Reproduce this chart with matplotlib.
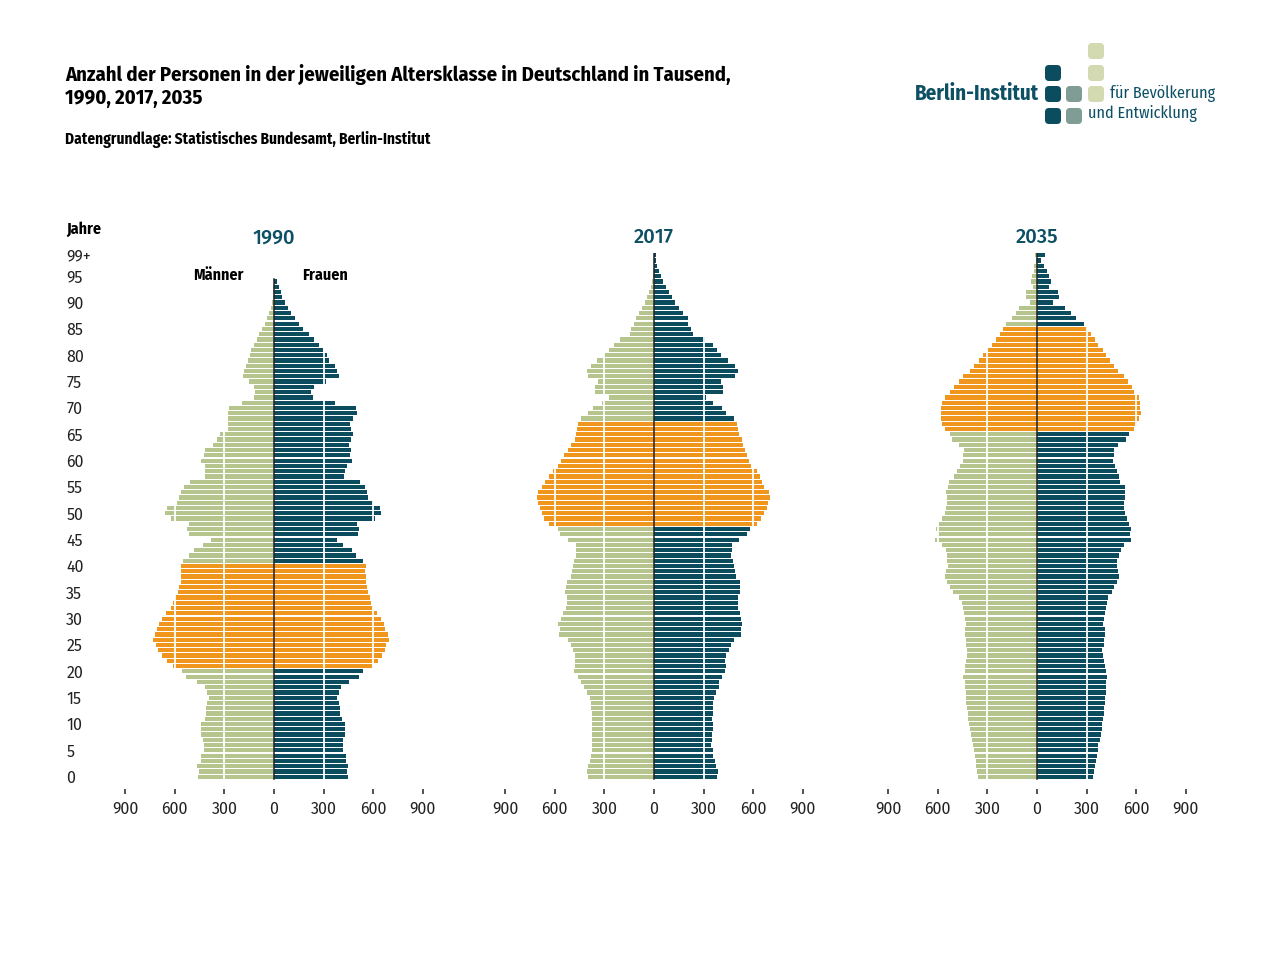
import numpy as np
import matplotlib.pyplot as plt
from matplotlib.patches import FancyBboxPatch

# values in thousand, index = age 0..99 (99 = 99+)
men_1990 = [460, 452, 464, 444, 440, 424, 426, 432, 440, 444,
            444, 420, 414, 410, 406, 396, 406, 416, 464, 530,
            556, 612, 648, 676, 704, 716, 730, 720, 710, 696,
            678, 656, 626, 610, 598, 580, 574, 564, 564, 560,
            564, 548, 512, 486, 430, 382, 514, 528, 514, 624,
            662, 650, 588, 574, 560, 544, 510, 416, 416, 420,
            442, 426, 420, 370, 344, 328, 280, 280, 280, 280,
            270, 196, 124, 114, 120, 154, 186, 182, 168, 158,
            148, 140, 124, 104, 88, 74, 52, 40, 30, 20,
            12, 8, 6, 4, 3, 0, 0, 0, 0, 0]
women_1990 = [446, 440, 450, 438, 434, 416, 416, 420, 430, 432,
              432, 410, 400, 400, 396, 384, 396, 406, 452, 514,
              540, 596, 630, 652, 670, 676, 694, 690, 670, 664,
              646, 626, 600, 588, 580, 570, 564, 554, 554, 550,
              554, 538, 498, 474, 420, 380, 506, 514, 500, 610,
              650, 644, 598, 568, 560, 548, 518, 424, 428, 440,
              474, 462, 466, 452, 466, 478, 464, 460, 478, 500,
              494, 368, 236, 226, 244, 316, 394, 382, 370, 332,
              320, 298, 270, 240, 212, 176, 152, 126, 104, 86,
              66, 50, 40, 30, 20, 0, 0, 0, 0, 0]

men_2017 = [400, 404, 398, 388, 384, 374, 374, 374, 374, 378,
            378, 374, 378, 380, 384, 390, 404, 424, 444, 460,
            484, 478, 476, 478, 490, 504, 520, 572, 570, 580,
            564, 548, 532, 528, 528, 536, 534, 528, 504, 498,
            492, 484, 474, 474, 472, 520, 570, 584, 638, 664,
            676, 690, 700, 708, 700, 678, 660, 638, 614, 580,
            560, 542, 520, 500, 480, 472, 464, 460, 440, 400,
            370, 316, 270, 358, 358, 340, 400, 404, 384, 344,
            304, 274, 244, 208, 148, 138, 124, 108, 90, 74,
            54, 40, 30, 20, 14, 8, 5, 3, 2, 2]
women_2017 = [382, 388, 376, 372, 356, 356, 346, 352, 352, 356,
              356, 352, 356, 360, 360, 366, 374, 392, 396, 412,
              432, 434, 430, 436, 452, 466, 484, 528, 528, 534,
              526, 520, 508, 506, 508, 520, 520, 520, 494, 490,
              482, 476, 466, 470, 472, 512, 560, 580, 622, 648,
              668, 682, 688, 700, 696, 668, 656, 640, 622, 588,
              572, 560, 552, 540, 532, 516, 508, 504, 484, 436,
              414, 356, 316, 416, 420, 404, 488, 508, 492, 448,
              408, 380, 356, 308, 236, 222, 208, 204, 176, 152,
              128, 108, 92, 70, 52, 40, 30, 20, 12, 12]

men_2035 = [358, 362, 368, 372, 376, 380, 386, 392, 400, 406,
            412, 416, 418, 424, 428, 432, 432, 436, 438, 446,
            438, 438, 432, 422, 422, 428, 432, 438, 438, 432,
            438, 442, 446, 456, 472, 508, 526, 542, 558, 548,
            538, 542, 546, 552, 572, 618, 606, 612, 596, 578,
            558, 552, 542, 544, 548, 536, 530, 500, 486, 466,
            448, 446, 444, 474, 516, 526, 556, 576, 580, 584,
            580, 574, 556, 524, 504, 474, 450, 406, 384, 354,
            326, 294, 270, 250, 226, 206, 186, 150, 126, 106,
            40, 64, 68, 26, 36, 30, 20, 16, 6, 14]
women_2035 = [340, 344, 352, 356, 362, 368, 372, 380, 388, 392,
              396, 400, 404, 408, 412, 412, 416, 418, 416, 424,
              416, 412, 404, 400, 396, 408, 408, 412, 412, 402,
              408, 412, 416, 422, 432, 452, 468, 482, 498, 492,
              482, 486, 496, 508, 528, 568, 564, 568, 554, 546,
              530, 526, 526, 534, 534, 532, 504, 494, 486, 474,
              458, 464, 464, 492, 538, 554, 588, 608, 618, 630,
              622, 626, 616, 588, 572, 548, 528, 488, 466, 442,
              418, 400, 370, 350, 324, 302, 282, 234, 206, 168,
              96, 132, 126, 72, 84, 72, 60, 44, 26, 46]

years = [1990, 2017, 2035]
boom_births = (1950, 1969)   # highlighted cohort
age_ticks = list(range(0, 100, 5))
age_labels = [str(a) for a in age_ticks]
x_ticks = [-900, -600, -300, 0, 300, 600, 900]
x_labels = ["900", "600", "300", "0", "300", "600", "900"]

GREEN = "#b6c48e"
TEAL = "#0b4d5f"
ORANGE = "#f0961c"
TITLE_C = "#0d5064"
GRAY = "#7f9c95"
LIGHT = "#d3d9b0"

NARROW = ["Fira Sans Condensed", "Asap Condensed", "Archivo Narrow", "DejaVu Sans"]
NUMF = ["Fira Sans", "Open Sans", "DejaVu Sans"]

W, H = 1280, 961


def px(x0, y0, w, h):
  return [x0 / W, 1 - (y0 + h) / H, w / W, h / H]


def main():
  fig = plt.figure(figsize=(W / 100, H / 100), dpi=100)

  data = {1990: (men_1990, women_1990),
          2017: (men_2017, women_2017),
          2035: (men_2035, women_2035)}
  centers = [274, 654, 1037]
  half = 148.7
  ymin = -2.33
  ytop = 776.7 - 99.5 * 5.268
  ybot = 776.7 - ymin * 5.268

  for i, (year, c) in enumerate(zip(years, centers)):
    ax = fig.add_axes(px(c - half, ytop, 2 * half, ybot - ytop))
    men, women = data[year]
    ages = np.arange(len(men))
    lo, hi = year - boom_births[1], year - boom_births[0]
    boom = (ages >= lo) & (ages <= hi)
    mcol = [ORANGE if b else GREEN for b in boom]
    wcol = [ORANGE if b else TEAL for b in boom]
    ax.barh(ages, -np.array(men), height=0.8, color=mcol, linewidth=0)
    ax.barh(ages, women, height=0.8, color=wcol, linewidth=0)

    for g in [-600, -300, 300, 600]:
      ax.plot([g, g], [-0.5, 99.5], color="white", lw=1.3, zorder=3)
    top = max(a for a in ages if men[a] > 0 or women[a] > 0) + 0.5
    ax.plot([0, 0], [-0.5, top], color="#222222", lw=1.1, zorder=4)

    ax.set_xlim(-900, 900)
    ax.set_ylim(ymin, 99.5)
    for s in ax.spines.values():
      s.set_visible(False)
    ax.set_xticks(x_ticks)
    ax.set_xticklabels(x_labels, fontsize=11.5, family=NUMF, color="#222222")
    ax.tick_params(axis="x", length=3.8, width=1.2, color="#333333", pad=5)

    if i == 0:
      ax.set_yticks(age_ticks + [99])
      ax.set_yticklabels(age_labels + ["99+"], fontsize=11.5, family=NUMF,
                         color="#222222", ha="left")
      ax.tick_params(axis="y", length=0, pad=42.5)
      ax.text(-340, 95.2, "Männer", ha="center", va="center", fontsize=11.5,
              fontweight="bold", family=NARROW)
      ax.text(310, 95.2, "Frauen", ha="center", va="center", fontsize=11.5,
              fontweight="bold", family=NARROW)
    else:
      ax.set_yticks([])

    ax.text(0, 102.3, str(year), ha="center", va="center", fontsize=14.5,
            fontweight="medium", family=NUMF, color=TITLE_C, clip_on=False)

  fig.text(66 / W, 1 - 229 / H, "Jahre", ha="left", va="center", fontsize=11.5,
           fontweight="bold", family=NARROW)

  # header
  fig.text(65 / W, 1 - 74 / H,
           "Anzahl der Personen in der jeweiligen Altersklasse in Deutschland in Tausend,",
           ha="left", va="center", fontsize=14.8, fontweight="bold", family=NARROW)
  fig.text(65 / W, 1 - 98 / H, "1990, 2017, 2035", ha="left", va="center",
           fontsize=14.8, fontweight="bold", family=NARROW)
  fig.text(65 / W, 1 - 139 / H,
           "Datengrundlage: Statistisches Bundesamt, Berlin-Institut",
           ha="left", va="center", fontsize=11, fontweight="bold", family=NARROW)

  # logo
  lax = fig.add_axes([0, 0, 1, 1], zorder=-1)
  lax.set_xlim(0, W)
  lax.set_ylim(H, 0)
  lax.axis("off")
  squares = [(1045, 65, TEAL), (1045, 86, TEAL), (1045, 108, TEAL),
             (1066, 86, GRAY), (1066, 108, GRAY),
             (1088, 43, LIGHT), (1088, 65, LIGHT), (1088, 86, LIGHT)]
  for sx, sy, col in squares:
    lax.add_patch(FancyBboxPatch((sx + 2, sy + 2), 12, 12,
                                 boxstyle="round,pad=2,rounding_size=4",
                                 fc=col, ec="none"))
  lax.text(1039, 94, "Berlin-Institut", ha="right", va="center", fontsize=15,
           fontweight="bold", family=NARROW, color=TITLE_C)
  lax.text(1110, 94, "für Bevölkerung", ha="left", va="center", fontsize=11.6,
           family=NARROW, color=TITLE_C)
  lax.text(1088, 113, "und Entwicklung", ha="left", va="center", fontsize=11.6,
           family=NARROW, color=TITLE_C)

  plt.savefig("out.png", dpi=100)


if __name__ == "__main__":
  main()
